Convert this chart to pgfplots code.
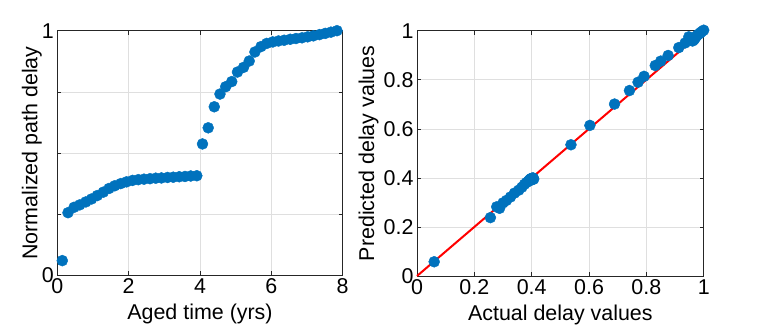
\documentclass[border=0pt]{standalone}
\usepackage{fontspec}
\setmainfont{Liberation Sans}
\usepackage{pgfplots}
\pgfplotsset{compat=1.18}
\usepackage{pgfplotstable}
\definecolor{matblue}{RGB}{0,114,189}
\definecolor{gridgray}{RGB}{223,223,223}
\definecolor{boxgray}{RGB}{38,38,38}

\pgfplotstableread{
t v
0.14 0.060
0.30 0.256
0.47 0.278
0.63 0.288
0.80 0.300
0.96 0.312
1.12 0.326
1.29 0.340
1.45 0.355
1.61 0.366
1.78 0.375
1.94 0.382
2.11 0.388
2.27 0.391
2.43 0.393
2.60 0.395
2.76 0.397
2.92 0.398
3.09 0.400
3.25 0.401
3.42 0.403
3.58 0.404
3.74 0.406
3.91 0.407
4.07 0.537
4.23 0.603
4.40 0.689
4.56 0.741
4.72 0.771
4.89 0.792
5.05 0.831
5.22 0.850
5.38 0.876
5.54 0.913
5.71 0.935
5.87 0.948
6.04 0.954
6.20 0.958
6.36 0.961
6.53 0.965
6.69 0.968
6.86 0.971
7.02 0.975
7.18 0.979
7.35 0.984
7.51 0.989
7.67 0.994
7.84 1.000
}\agedtable

\pgfplotstableread{
a p
0.060 0.058
0.256 0.238
0.278 0.282
0.288 0.276
0.300 0.298
0.312 0.308
0.326 0.322
0.340 0.338
0.355 0.350
0.366 0.362
0.375 0.374
0.382 0.381
0.388 0.386
0.391 0.389
0.393 0.392
0.395 0.393
0.397 0.395
0.398 0.397
0.400 0.398
0.401 0.392
0.403 0.396
0.404 0.400
0.406 0.398
0.407 0.395
0.537 0.535
0.603 0.614
0.689 0.701
0.741 0.756
0.771 0.790
0.792 0.814
0.831 0.858
0.850 0.876
0.876 0.899
0.913 0.931
0.935 0.950
0.948 0.975
0.954 0.962
0.958 0.968
0.961 0.958
0.965 0.962
0.968 0.966
0.971 0.972
0.975 0.978
0.979 0.983
0.984 0.987
0.989 0.992
0.994 0.997
1.000 1.002
}\predtable

\pgfplotsset{
  myaxis/.style={
    scale only axis,
    axis line style={boxgray, line width=0.6pt},
    tick style={boxgray, line width=0.6pt},
    major tick length=4bp,
    tick align=inside,
    xtick pos=both, ytick pos=both,
    grid=major,
    major grid style={gridgray, line width=0.6pt},
    ticklabel style={font=\fontsize{21.5}{22}\selectfont, text=black},
    /pgf/number format/assume math mode=true,
    label style={font=\fontsize{21.5}{22}\selectfont, text=black},
    clip=false,
  },
}

\begin{document}
\begin{tikzpicture}
\useasboundingbox (0,0) rectangle (764bp,331bp);
\begin{axis}[myaxis,
  at={(57.3bp,55.7bp)}, anchor=south west,
  width=285.4bp, height=244.6bp,
  xmin=0, xmax=8, ymin=0, ymax=1,
  xtick={0,2,4,6,8},
  ytick={0,0.25,0.5,0.75,1},
  yticklabels={0,,,,1},
  xlabel={Aged time (yrs)},
  ylabel={Normalized path delay},
  xlabel style={at={(axis description cs:0.5,0)}, anchor=north, yshift=-25bp},
  ylabel style={at={(axis description cs:0,0.5)}, anchor=south, yshift=12bp},
]
\addplot[only marks, mark=*, mark size=5.5bp, color=matblue, mark options={draw=matblue, fill=matblue}] table[x=t, y=v] {\agedtable};
\end{axis}
\begin{axis}[myaxis,
  at={(417bp,55bp)}, anchor=south west,
  width=286.7bp, height=245.3bp,
  xmin=0, xmax=1, ymin=0, ymax=1,
  xtick={0,0.2,0.4,0.6,0.8,1},
  ytick={0,0.2,0.4,0.6,0.8,1},
  xticklabels={0,0.2,0.4,0.6,0.8,1},
  yticklabels={0,0.2,0.4,0.6,0.8,1},
  xlabel={Actual delay values},
  ylabel={Predicted delay values},
  xlabel style={at={(axis description cs:0.5,0)}, anchor=north, yshift=-25bp},
  ylabel style={at={(axis description cs:0,0.5)}, anchor=south, yshift=35bp},
]
\addplot[only marks, mark=*, mark size=5.5bp, color=matblue, mark options={draw=matblue, fill=matblue}] table[x=a, y=p] {\predtable};
\addplot[red, line width=2bp] coordinates {(0,0) (1,1)};
\end{axis}
\end{tikzpicture}
\end{document}
